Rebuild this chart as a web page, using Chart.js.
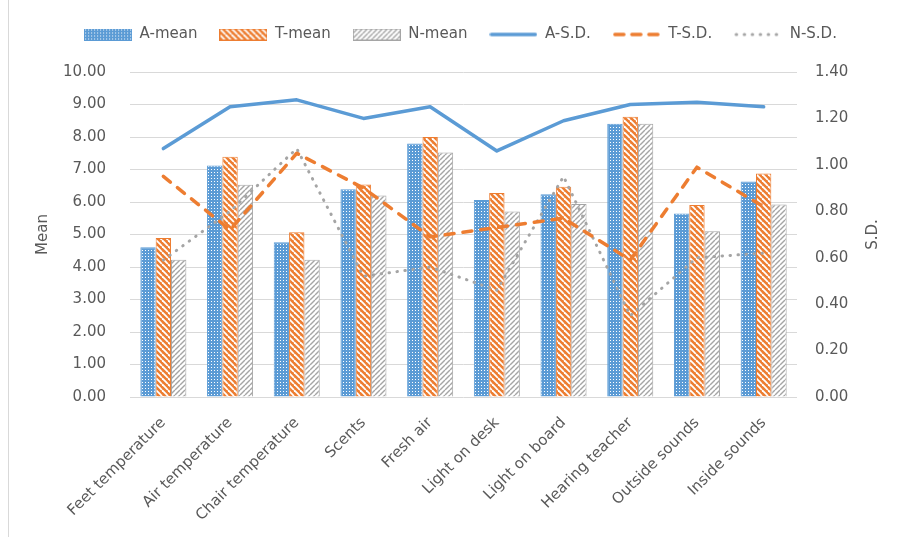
<!DOCTYPE html>
<html>
<head>
<meta charset="utf-8">
<script src="https://cdn.jsdelivr.net/npm/chart.js@4.4.1/dist/chart.umd.min.js"></script>
<style>
  html, body { margin: 0; padding: 0; background: #fff; }
  #wrap { position: relative; width: 901px; height: 537px; }
  #frame { position: absolute; left: 8px; top: 0; width: 1px; height: 537px; background: #d9d9d9; }
</style>
</head>
<body>
<div id="wrap">
  <div id="frame"></div>
  <canvas id="chart" width="901" height="537"></canvas>
</div>
<script>
const categories = ['Feet temperature', 'Air temperature', 'Chair temperature', 'Scents', 'Fresh air',
    'Light on desk', 'Light on board', 'Hearing teacher', 'Outside sounds', 'Inside sounds'];
const aMean = [4.61, 7.12, 4.76, 6.39, 7.80, 6.06, 6.24, 8.41, 5.65, 6.63];
const tMean = [4.89, 7.39, 5.07, 6.54, 8.00, 6.28, 6.47, 8.62, 5.91, 6.88];
const nMean = [4.22, 6.53, 4.22, 6.20, 7.52, 5.71, 5.94, 8.41, 5.10, 5.92];
const aSD = [1.07, 1.25, 1.28, 1.20, 1.25, 1.06, 1.19, 1.26, 1.27, 1.25];
const tSD = [0.95, 0.72, 1.05, 0.90, 0.69, 0.73, 0.77, 0.59, 0.99, 0.82];
const nSD = [0.59, 0.80, 1.07, 0.52, 0.56, 0.46, 0.95, 0.35, 0.60, 0.62];

const blue = '#5b9bd5', orange = '#ed7d31', gray = '#a5a5a5', textColor = '#595959';
const font = { family: '"DejaVu Sans", sans-serif', size: 15 };

// little tiles for the bar fills
function makePattern(size, draw) {
    const c = document.createElement('canvas');
    c.width = size; c.height = size;
    const g = c.getContext('2d');
    draw(g, size);
    return g.createPattern(c, 'repeat');
}
const blueDots = makePattern(3, (g, s) => {
    g.fillStyle = blue; g.fillRect(0, 0, s, s);
    g.fillStyle = '#ffffff'; g.fillRect(1, 1, 1, 1);
});
const orangeStripes = makePattern(6, (g, s) => {
    g.fillStyle = orange; g.fillRect(0, 0, s, s);
    g.strokeStyle = '#ffffff'; g.lineWidth = 1.8;
    for (const k of [-s, 0, s]) { g.beginPath(); g.moveTo(k, 0); g.lineTo(k + s, s); g.stroke(); }
});
const grayStripes = makePattern(5, (g, s) => {
    g.fillStyle = '#ffffff'; g.fillRect(0, 0, s, s);
    g.strokeStyle = gray; g.lineWidth = 1.4;
    for (const k of [-s, 0, s]) { g.beginPath(); g.moveTo(k, s); g.lineTo(k + s, 0); g.stroke(); }
});

// legend samples drawn as small images (dash does not survive the point style path)
function sample(draw) {
    const c = document.createElement('canvas');
    c.width = 48; c.height = 12;
    draw(c.getContext('2d'));
    return c;
}
function barSample(fill, stroke) {
    return sample(g => {
        g.fillStyle = fill; g.fillRect(0, 0, 48, 12);
        g.strokeStyle = stroke; g.lineWidth = 1; g.strokeRect(0.5, 0.5, 47, 11);
    });
}
function lineSample(color, width, dash) {
    return sample(g => {
        g.strokeStyle = color; g.lineWidth = width; g.lineCap = 'round';
        g.setLineDash(dash);
        g.beginPath(); g.moveTo(2, 6); g.lineTo(46, 6); g.stroke();
    });
}

const legendGap = {
    id: 'legendGap',
    beforeInit(chart) {
        const fit = chart.legend.fit;
        chart.legend.fit = function () { fit.call(this); this.height += 20; };
    }
};

// Excel style right title reads bottom to top
const rightTitle = {
    id: 'rightTitle',
    afterDraw(chart) {
        const ctx = chart.ctx;
        const y = (chart.chartArea.top + chart.chartArea.bottom) / 2;
        ctx.save();
        ctx.translate(873, y);
        ctx.rotate(-Math.PI / 2);
        ctx.font = `${font.size}px ${font.family}`;
        ctx.fillStyle = textColor;
        ctx.textAlign = 'center';
        ctx.textBaseline = 'middle';
        ctx.fillText('S.D.', 0, 0);
        ctx.restore();
    }
};

const barBase = { type: 'bar', yAxisID: 'y', order: 2, borderWidth: 1, barPercentage: 1, categoryPercentage: 0.69 };
const lineBase = { type: 'line', yAxisID: 'y1', order: 1, fill: false, tension: 0, pointRadius: 0,
    pointHoverRadius: 0, borderCapStyle: 'round', borderJoinStyle: 'round' };

new Chart(document.getElementById('chart'), {
    data: {
        labels: categories,
        datasets: [
            { ...barBase, label: 'A-mean', data: aMean, backgroundColor: blueDots, borderColor: blue,
                pointStyle: barSample(blueDots, blue) },
            { ...barBase, label: 'T-mean', data: tMean, backgroundColor: orangeStripes, borderColor: orange,
                pointStyle: barSample(orangeStripes, orange) },
            { ...barBase, label: 'N-mean', data: nMean, backgroundColor: grayStripes, borderColor: gray,
                pointStyle: barSample(grayStripes, gray) },
            { ...lineBase, label: 'A-S.D.', data: aSD, borderColor: blue, backgroundColor: blue,
                borderWidth: 3.5, pointStyle: lineSample(blue, 3.5, []) },
            { ...lineBase, label: 'T-S.D.', data: tSD, borderColor: orange, backgroundColor: orange,
                borderWidth: 3.5, borderDash: [9, 9], pointStyle: lineSample(orange, 3.5, [9, 8]) },
            { ...lineBase, label: 'N-S.D.', data: nSD, borderColor: gray, backgroundColor: gray,
                borderWidth: 3, borderDash: [0.5, 7.5], pointStyle: lineSample(gray, 3, [0.5, 7.5]) },
        ]
    },
    options: {
        responsive: false,
        animation: false,
        devicePixelRatio: 1,
        layout: { padding: { top: 5, left: 30, right: 10, bottom: 0 } },
        plugins: {
            tooltip: { enabled: false },
            legend: {
                position: 'top',
                labels: {
                    color: textColor,
                    font: font,
                    padding: 22,
                    usePointStyle: true,
                    pointStyleWidth: 48,
                    generateLabels(chart) {
                        const items = Chart.defaults.plugins.legend.labels.generateLabels(chart);
                        items.forEach(it => { it.pointStyle = chart.data.datasets[it.datasetIndex].pointStyle; });
                        return items.sort((a, b) => a.datasetIndex - b.datasetIndex);
                    }
                }
            }
        },
        scales: {
            x: {
                offset: true,
                grid: { display: false },
                border: { display: false },
                ticks: { color: textColor, font: font, autoSkip: false, maxRotation: 45, minRotation: 45, padding: 9 },
                afterFit(axis) { axis.height = 140; }
            },
            y: {
                position: 'left',
                min: 0, max: 10,
                grid: { color: '#d9d9d9', drawTicks: false },
                border: { display: false },
                ticks: { stepSize: 1, color: textColor, font: font, padding: 24, callback: v => v.toFixed(2) },
                title: { display: true, text: 'Mean', color: textColor, font: font, padding: { top: 4, bottom: 0 } },
                afterFit(axis) { axis.width = 100; }
            },
            y1: {
                position: 'right',
                min: 0, max: 1.4,
                grid: { display: false, drawTicks: false },
                border: { display: false },
                ticks: { stepSize: 0.2, color: textColor, font: font, padding: 18, callback: v => v.toFixed(2) },
                afterFit(axis) { axis.width = 94; }
            }
        }
    },
    plugins: [legendGap, rightTitle]
});
</script>
</body>
</html>
